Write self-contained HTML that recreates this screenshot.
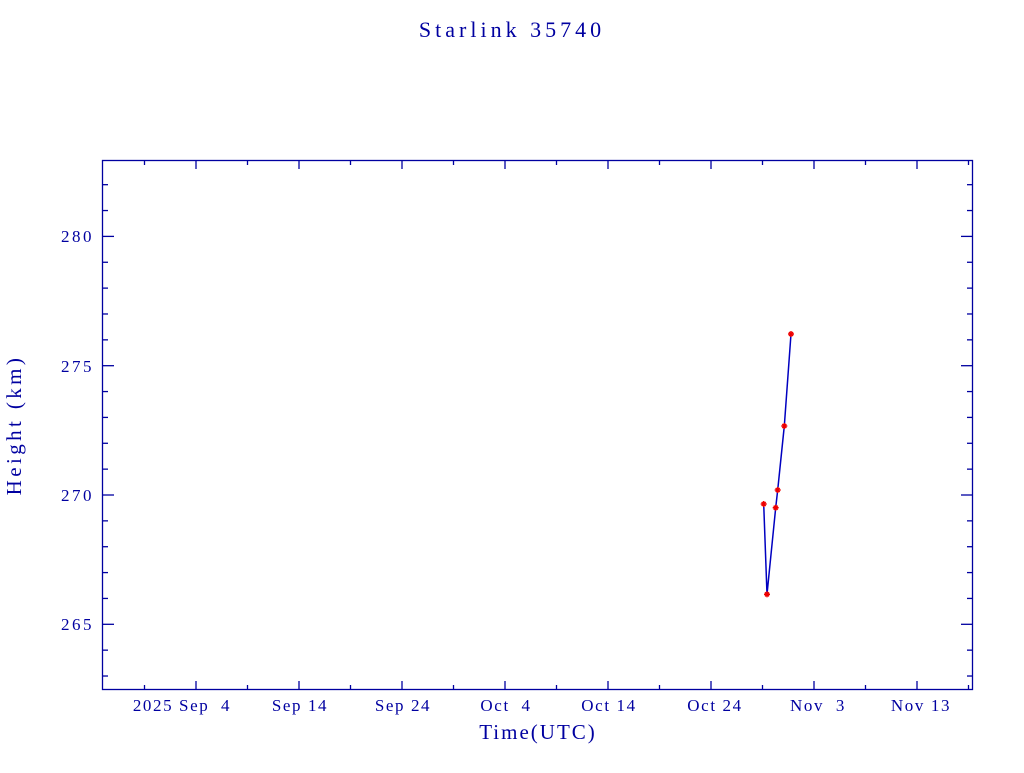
<!DOCTYPE html>
<html><head><meta charset="utf-8"><style>
body{margin:0;background:#fff}
svg text{font-family:"Liberation Serif",serif;fill:#0000a0;white-space:pre}
</style></head><body>
<svg id="s" width="1024" height="768" xmlns="http://www.w3.org/2000/svg" xml:space="preserve">
<text x="512" y="37" font-size="22" letter-spacing="4" text-anchor="middle">Starlink 35740</text>
<rect x="102.5" y="160.5" width="870" height="529" fill="none" stroke="#0000a0" stroke-width="1.3"/>
<g id="t" stroke="#0000a0" stroke-width="1.3"></g>
<g font-size="17" letter-spacing="2.5" text-anchor="end">
<text x="94" y="242">280</text><text x="94" y="372">275</text><text x="94" y="501">270</text><text x="94" y="630">265</text>
</g>
<g font-size="17" letter-spacing="1.6" text-anchor="middle">
<text x="182" y="711">2025 Sep  4</text><text x="300" y="711">Sep 14</text><text x="403" y="711">Sep 24</text>
<text x="506" y="711">Oct  4</text><text x="609" y="711">Oct 14</text><text x="715" y="711">Oct 24</text>
<text x="818" y="711">Nov  3</text><text x="921" y="711">Nov 13</text>
</g>
<text x="538" y="739" font-size="21" letter-spacing="2" text-anchor="middle">Time(UTC)</text>
<text transform="translate(21,425) rotate(-90)" font-size="21" letter-spacing="3.4" text-anchor="middle">Height (km)</text>
<polyline points="763.7,504 767,594.3 775.7,507.7 777.7,490 784.3,426 791,334" fill="none" stroke="#0000c0" stroke-width="1.5"/>
<g id="p" stroke="#ee0000" stroke-width="1.5"></g>
</svg>
<script>
var t=document.getElementById('t'),h='';
for(var v=263;v<=282;v++){var y=495-(v-270)*25.86;var L=(v%5==0)?12:6;
h+='<line x1="102" y1="'+y+'" x2="'+(102+L)+'" y2="'+y+'"/><line x1="973" y1="'+y+'" x2="'+(973-L)+'" y2="'+y+'"/>';}
for(var d=-5;d<=75;d+=5){var x=196+d*10.3;var L=(d%10==0)?9:5;
h+='<line x1="'+x+'" y1="690" x2="'+x+'" y2="'+(690-L)+'"/><line x1="'+x+'" y1="160" x2="'+x+'" y2="'+(160+L)+'"/>';}
t.innerHTML=h;
var pts=[[763.7,504],[767,594.3],[775.7,507.7],[777.7,490],[784.3,426],[791,334]],g='';
pts.forEach(function(p){var x=p[0],y=p[1];
g+='<line x1="'+(x-3)+'" y1="'+y+'" x2="'+(x+3)+'" y2="'+y+'"/><line x1="'+x+'" y1="'+(y-3)+'" x2="'+x+'" y2="'+(y+3)+'"/><line x1="'+(x-2)+'" y1="'+(y-2)+'" x2="'+(x+2)+'" y2="'+(y+2)+'"/><line x1="'+(x-2)+'" y1="'+(y+2)+'" x2="'+(x+2)+'" y2="'+(y-2)+'"/>';});
document.getElementById('p').innerHTML=g;
</script>
</body></html>
